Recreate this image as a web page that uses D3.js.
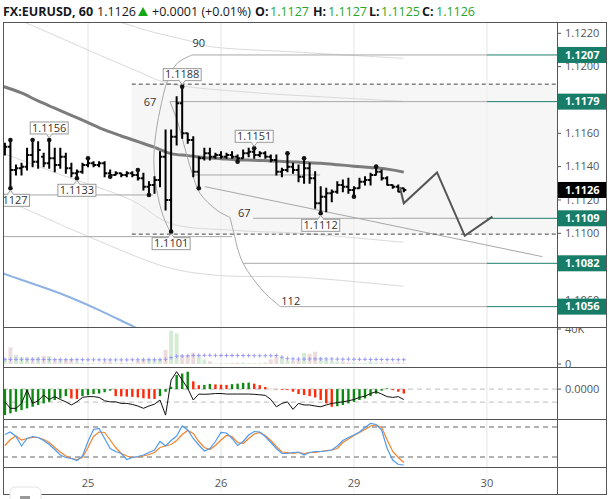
<!DOCTYPE html>
<html><head><meta charset="utf-8">
<script src="https://cdn.jsdelivr.net/npm/d3@7"></script>
<style>body{margin:0;background:#fff}svg{display:block}text{font-family:"Open Sans",sans-serif}</style>
</head><body><svg id="c" width="610" height="499"></svg>
<script>
// ---------------- data ----------------
const symbol = "FX:EURUSD, 60";
const dayLabels = ["25","26","29","30"];
const dayIndex = [15,39,63,87];
const priceTicks = [1.1040,1.1060,1.1080,1.1100,1.1120,1.1140,1.1160,1.1180,1.1200,1.1220];
const open  = [1.1150,1.1152,1.1138,1.1139,1.1140,1.1147,1.1143,1.1146,1.1142,1.1145,1.1141,1.1146,1.1139,1.1136,1.1137,1.1141,1.1142,1.1141,1.1142,1.1136,1.1135,1.1136,1.1135,1.1136,1.1135,1.1133,1.1128,1.1129,1.1132,1.1146,1.1120,1.1158,1.1178,1.1160,1.1156,1.1137,1.1145,1.1148,1.1146,1.1147,1.1146,1.1147,1.1146,1.1145,1.1148,1.1149,1.1147,1.1148,1.1146,1.1144,1.1137,1.1138,1.1140,1.1138,1.1134,1.1139,1.1133,1.1118,1.1122,1.1124,1.1125,1.1129,1.1128,1.1126,1.1127,1.1131,1.1132,1.1135,1.1137,1.1133,1.1129,1.1128,1.1127];
const high  = [1.1154,1.1156,1.1141,1.1142,1.1151,1.1156,1.1155,1.1148,1.1156,1.1151,1.1151,1.1148,1.1142,1.1138,1.1142,1.1145,1.1143,1.1143,1.1143,1.1138,1.1137,1.1136,1.1137,1.1137,1.1138,1.1136,1.1131,1.1134,1.1149,1.1162,1.1162,1.1182,1.1188,1.1160,1.1158,1.1146,1.1151,1.1151,1.1148,1.1149,1.1148,1.1149,1.1147,1.1150,1.1151,1.1151,1.1149,1.1149,1.1147,1.1147,1.1139,1.1148,1.1142,1.1141,1.1145,1.1142,1.1137,1.1128,1.1127,1.1126,1.1131,1.1132,1.1133,1.1128,1.1133,1.1134,1.1136,1.1140,1.1138,1.1134,1.1129,1.1129,1.1127];
const low   = [1.1147,1.1127,1.1135,1.1135,1.1138,1.1140,1.1139,1.1140,1.1139,1.1137,1.1139,1.1136,1.1134,1.1133,1.1136,1.1140,1.1140,1.1140,1.1134,1.1134,1.1135,1.1134,1.1134,1.1134,1.1132,1.1126,1.1123,1.1124,1.1128,1.1114,1.1101,1.1153,1.1157,1.1154,1.1134,1.1127,1.1144,1.1144,1.1145,1.1145,1.1145,1.1145,1.1143,1.1145,1.1146,1.1145,1.1146,1.1145,1.1143,1.1135,1.1134,1.1137,1.1136,1.1131,1.1130,1.1130,1.1115,1.1112,1.1113,1.1119,1.1124,1.1125,1.1124,1.1122,1.1127,1.1129,1.1129,1.1135,1.1132,1.1129,1.1127,1.1125,1.1125];
const close = [1.1152,1.1138,1.1139,1.1140,1.1147,1.1143,1.1150,1.1142,1.1145,1.1141,1.1146,1.1139,1.1136,1.1137,1.1141,1.1142,1.1141,1.1142,1.1136,1.1135,1.1136,1.1135,1.1136,1.1135,1.1133,1.1128,1.1129,1.1132,1.1146,1.1120,1.1158,1.1178,1.1160,1.1156,1.1137,1.1145,1.1148,1.1146,1.1147,1.1146,1.1147,1.1146,1.1145,1.1148,1.1149,1.1147,1.1148,1.1146,1.1144,1.1137,1.1138,1.1140,1.1138,1.1134,1.1139,1.1133,1.1118,1.1122,1.1124,1.1125,1.1129,1.1128,1.1126,1.1127,1.1131,1.1132,1.1135,1.1137,1.1133,1.1129,1.1128,1.1125,1.1126];
const volume = [5200,19000,10300,7600,7600,7600,8400,9100,9100,5300,5300,5300,5300,2600,1500,800,800,800,2600,2600,1000,1600,900,900,3800,5000,5200,5300,6200,16000,38000,35000,10300,10300,13000,10300,5300,3000,800,800,800,1200,1600,1600,1000,800,1200,1600,5300,8000,7200,3800,3800,5000,12600,11400,14000,7600,5000,3800,2800,2800,1600,1600,800,1200,2800,1600,1600,1600,1200,1800,1000];
const volumeMA = [5200,5200,5300,5300,5300,5200,5200,5200,5100,5100,5000,5000,5000,4900,4900,4800,4800,4800,4800,4700,4700,4700,4700,4800,4800,4800,4900,4900,4900,5400,7200,8900,9100,9300,9700,9900,9900,9900,9800,9800,9700,9700,9700,9600,9600,9500,9500,9500,9500,9600,7800,6100,5800,5600,5600,5700,5800,5800,5800,5700,5600,5500,5500,5400,5300,5300,5200,5200,5100,5000,5000,4900,4900];
const macdHist = [-0.00100,-0.00093,-0.00087,-0.00081,-0.00074,-0.00068,-0.00061,-0.00055,-0.00049,-0.00042,-0.00036,-0.00027,-0.00036,-0.00038,-0.00027,-0.00023,-0.00019,-0.00017,-0.00012,-0.00006,-0.00027,-0.00028,-0.00029,-0.00030,-0.00032,-0.00035,-0.00037,-0.00038,-0.00027,-0.00010,0.00009,0.00054,0.00060,0.00067,0.00030,0.00015,0.00016,0.00020,0.00018,0.00017,0.00016,0.00019,0.00021,0.00024,0.00025,0.00021,0.00015,0.00008,0.00001,-0.00001,-0.00003,-0.00004,-0.00010,-0.00019,-0.00023,-0.00027,-0.00032,-0.00042,-0.00055,-0.00068,-0.00066,-0.00061,-0.00055,-0.00049,-0.00042,-0.00036,-0.00027,-0.00018,-0.00006,0.00003,-0.00004,-0.00010,-0.00017];
const macdLine = [-0.00049,-0.00074,-0.00074,-0.00055,-0.00004,-0.00055,-0.00045,-0.00023,-0.00040,-0.00029,-0.00040,-0.00049,-0.00061,-0.00049,-0.00032,-0.00029,-0.00029,-0.00032,-0.00045,-0.00049,-0.00049,-0.00055,-0.00055,-0.00059,-0.00065,-0.00074,-0.00065,-0.00058,-0.00042,-0.00100,0.00035,0.00067,0.00035,0.00003,-0.00042,-0.00019,-0.00020,-0.00019,-0.00017,-0.00017,-0.00019,-0.00019,-0.00019,-0.00019,-0.00019,-0.00020,-0.00022,-0.00024,-0.00040,-0.00068,-0.00055,-0.00049,-0.00078,-0.00055,-0.00061,-0.00061,-0.00065,-0.00068,-0.00061,-0.00055,-0.00052,-0.00049,-0.00045,-0.00040,-0.00032,-0.00027,-0.00017,-0.00010,-0.00019,-0.00029,-0.00032,-0.00029,-0.00040];
const stochK = [65,70,61,42,57,61,59,53,45,35,24,19,17,13,22,51,75,77,57,37,31,27,15,19,21,24,29,34,51,42,53,62,82,74,57,44,32,37,51,69,68,57,43,51,64,71,70,61,49,37,27,27,29,30,24,29,31,31,32,34,42,53,59,64,70,79,87,85,74,37,14,5,4];
const stochD = [43,55,62,54,57,59,59,55,49,39,30,22,17,15,19,39,61,70,69,54,39,27,22,19,20,22,25,29,39,42,45,53,65,73,67,51,39,35,43,54,63,61,49,47,57,66,69,63,53,41,30,29,27,29,27,29,29,31,33,34,37,49,56,63,69,75,82,84,79,54,31,19,9];
// long moving average and envelopes, [bar index, price]
const maLong = [[-1,1.11888],[0,1.11878],[3,1.11842],[6,1.11794],[9,1.11751],[12,1.11708],[15,1.11664],[18,1.11620],[21,1.11584],[24,1.11550],[27,1.11516],[30,1.11478],[33,1.11466],[36,1.11454],[39,1.11448],[42,1.11442],[45,1.11439],[48,1.11434],[51,1.11430],[54,1.11425],[57,1.11420],[60,1.11412],[63,1.11403],[66,1.11395],[69,1.11385],[72,1.11367]];
const bandU1 = [[9.9,1.12350],[20.8,1.12266],[26.2,1.12212],[33.6,1.12152],[36.8,1.12122],[53.3,1.12086],[71.9,1.12050]];
const bandU2 = [[-0.9,1.12332],[3.6,1.12266],[17.2,1.12068],[24.4,1.11966],[29.4,1.11900],[44.2,1.11846],[58.7,1.11816],[71.9,1.11792]];
const bandL2 = [[-0.9,1.11486],[9.9,1.11354],[22.9,1.11198],[29.8,1.11060],[41.2,1.11018],[53.3,1.11000],[71.9,1.10946]];
const bandL1 = [[-0.9,1.11210],[2.2,1.11168],[15.4,1.10976],[29.3,1.10796],[38.3,1.10748],[53.3,1.10736],[71.9,1.10682]];
const blueMA = [[-0.4,1.10760],[2.7,1.10724],[9.9,1.10640],[17.1,1.10538],[23.5,1.10436],[28,1.10370]];
// drawing objects
const levelPrices = [1.1207,1.1179,1.1109,1.1082,1.1056];
const levelStart  = [33.8,29.8,44.8,43.0,49.7];
const tagText = ["90","67","67","112"];
const tagPos  = [[35.0,1.1214],[26.2,1.11786],[43.2,1.1112],[51.6,1.10592]];
const arcA  = [[33.8,1.1207],[31.1,1.1202],[29.4,1.1192],[28.0,1.1174],[27.1,1.1156],[26.9,1.1141],[27.4,1.1126],[28.5,1.1111],[29.8,1.1101]];
const arcB1 = [[29.8,1.1179],[31.2,1.11666],[32.1,1.11558],[33.8,1.11360],[35.2,1.11240],[38.3,1.11138],[40.6,1.11096]];
const arcB2 = [[40.6,1.11096],[41.3,1.11006],[42.1,1.10898],[43.0,1.1082],[44.6,1.10736],[46.8,1.10646],[49.7,1.1056]];
const trendLine = [[36.1,1.1128],[97,1.1086]];
const hLinePrice = [1.1123,1.1135,1.1098];
const hLineSpan  = [[-2,26.7],[34,56.9],[-2,41]];
const boxStart = 22.9, boxTop = 1.11895, boxBottom = 1.10995;
const projection = [[71.3,1.11276],[72,1.1118],[78,1.11365],[83,1.10985],[88,1.1110]];
const pivotHighIdx = [1,5,8,15,24,32,45,51,54,67];
const pivotLowIdx  = [1,13,19,26,30,35,42,57,63];
const labelHighIdx = [8,32,45];
const labelLowIdx  = [1,13,30,57];

// ---------------- layout ----------------
const L=3, R=557, AR=607, T=22, MB=327, VB=367, CB=419, SB=467, BOT=494;
const svg = d3.select("#c");
const x = d3.scaleLinear().domain([dayIndex[0], dayIndex[3]]).range([88, 486.9]);
const y = d3.scaleLinear().domain([1.1100, 1.1220]).range([233.3, 33.3]);
const vy = d3.scaleLinear().domain([0, 40000]).range([364, 329]);
const my = d3.scaleLinear().domain([-0.00115, 0.00085]).range([419, 367]);
const sy = d3.scaleLinear().domain([0, 100]).range([467, 417]);
const N = close.length;
const f4 = d3.format(".4f");
const green = "#2aa52a";

const defs = svg.append("defs");
function clip(id, x0, y0, w, h){ defs.append("clipPath").attr("id", id).append("rect").attr("x",x0).attr("y",y0).attr("width",w).attr("height",h); }
clip("cm", L, T, R-L, MB-T);
clip("cv", L, MB, R-L, VB-MB);
clip("cc", L, VB, R-L, CB-VB);
clip("cs", L, CB, R-L, SB-CB);
clip("cva", R, MB+1, AR-R, VB-MB-1);
clip("caxis", R, T+1, AR-R, MB-T-1);

// grid lines
const grid = svg.append("g");
dayIndex.forEach(d => grid.append("line").attr("x1", x(d)).attr("x2", x(d)).attr("y1", T).attr("y2", SB).attr("stroke", "#efefef"));

// ---------------- main panel ----------------
const main = svg.append("g").attr("clip-path", "url(#cm)");
main.append("rect").attr("x", x(boxStart)).attr("y", y(boxTop)).attr("width", R - x(boxStart)).attr("height", y(boxBottom) - y(boxTop)).attr("fill", "#f6f6f6");
dayIndex.forEach(d => main.append("line").attr("x1", x(d)).attr("x2", x(d)).attr("y1", T).attr("y2", MB).attr("stroke", "#ececec"));

const lineP = d3.line().x(d => x(d[0])).y(d => y(d[1]));
const smooth = d3.line().x(d => x(d[0])).y(d => y(d[1])).curve(d3.curveCatmullRom.alpha(0.5));
[bandU1, bandU2, bandL2, bandL1].forEach(b => main.append("path").attr("d", smooth(b)).attr("fill", "none").attr("stroke", "#d9d9d9").attr("stroke-width", 1));
main.append("path").attr("d", smooth(blueMA)).attr("fill", "none").attr("stroke", "#8fb2e4").attr("stroke-width", 2);
main.append("path").attr("d", smooth(maLong)).attr("fill", "none").attr("stroke", "#7c7c7c").attr("stroke-width", 3);

// structure lines
const st = main.append("g").attr("fill", "none").attr("stroke", "#a8a8a8").attr("stroke-width", 1);
levelPrices.forEach((p, k) => {
  st.append("line").attr("x1", x(levelStart[k])).attr("x2", x(dayIndex[3])).attr("y1", y(p)).attr("y2", y(p));
  st.append("line").attr("x1", x(dayIndex[3])).attr("x2", R).attr("y1", y(p)).attr("y2", y(p)).attr("stroke", "#1b7f6a");
});
hLinePrice.forEach((p, k) => st.append("line").attr("x1", x(hLineSpan[k][0])).attr("x2", x(hLineSpan[k][1])).attr("y1", y(p)).attr("y2", y(p)));
st.append("path").attr("d", lineP(trendLine));
[arcA, arcB1, arcB2].forEach(a => st.append("path").attr("d", smooth(a)));

// dashed box borders
[boxTop, boxBottom].forEach(p => main.append("line").attr("x1", x(boxStart)).attr("x2", R).attr("y1", y(p)).attr("y2", y(p)).attr("stroke", "#444").attr("stroke-dasharray", "4,3"));

// OHLC bars
const bars = main.append("g").attr("stroke", "#000").attr("stroke-width", 2).attr("fill", "none");
d3.range(N).forEach(i => {
  const xi = x(i);
  bars.append("path").attr("d", `M${xi},${y(high[i])-0.5}V${y(low[i])+0.5}M${xi-2.5},${y(open[i])}H${xi}M${xi},${y(close[i])}H${xi+2.5}`);
});
pivotHighIdx.forEach(i => main.append("circle").attr("cx", x(i)).attr("cy", y(high[i])).attr("r", 2.3).attr("fill", "#111"));
pivotLowIdx.forEach(i => main.append("circle").attr("cx", x(i)).attr("cy", y(low[i])).attr("r", 2.3).attr("fill", "#111"));

// projection
main.append("path").attr("d", lineP(projection)).attr("fill", "none").attr("stroke", "#555").attr("stroke-width", 2).attr("stroke-linejoin", "miter");

// tags
tagText.forEach((t, k) => main.append("text").attr("x", x(tagPos[k][0])).attr("y", y(tagPos[k][1])).attr("dy", "0.35em").attr("text-anchor", "middle").attr("font-size", 11).attr("fill", "#333").text(t));

// pivot labels
function pivotLabel(i, price, above){
  const cx = x(i), py = y(price), w = 38, h = 12;
  const by = above ? py - 6 - h : py + 6;
  const g = main.append("g");
  const tipY = above ? py - 2 : py + 2, baseY = above ? by + h : by;
  g.append("path").attr("d", `M${cx-3},${baseY}L${cx},${tipY}L${cx+3},${baseY}`).attr("fill", "#fff").attr("stroke", "#999");
  g.append("rect").attr("x", cx - w/2).attr("y", by).attr("width", w).attr("height", h).attr("fill", "#fff").attr("stroke", "#999");
  g.append("rect").attr("x", cx - 2.5).attr("y", above ? by + h - 1 : by - 0.5).attr("width", 5).attr("height", 1.5).attr("fill", "#fff");
  g.append("text").attr("x", cx).attr("y", by + h/2).attr("dy", "0.35em").attr("text-anchor", "middle").attr("font-size", 11).attr("fill", "#333").text(f4(price));
}
labelHighIdx.forEach(i => pivotLabel(i, high[i], true));
labelLowIdx.forEach(i => pivotLabel(i, low[i], false));

// ---------------- volume ----------------
const vol = svg.append("g").attr("clip-path", "url(#cv)");
dayIndex.forEach(d => vol.append("line").attr("x1", x(d)).attr("x2", x(d)).attr("y1", MB).attr("y2", VB).attr("stroke", "#ececec"));
d3.range(N).forEach(i => {
  vol.append("rect").attr("x", x(i) - 2).attr("width", 4).attr("y", vy(volume[i])).attr("height", vy(0) - vy(volume[i]))
    .attr("fill", close[i] >= open[i] ? "#d6ebd6" : "#eddcdc");
});
const plus = vol.append("g").attr("stroke", "#9a9af2").attr("stroke-width", 1);
d3.range(N).forEach(i => {
  const cx = x(i), cy = vy(volumeMA[i]);
  plus.append("path").attr("d", `M${cx-2},${cy}H${cx+2}M${cx},${cy-2}V${cy+2}`);
});

// ---------------- MACD ----------------
const mc = svg.append("g").attr("clip-path", "url(#cc)");
dayIndex.forEach(d => mc.append("line").attr("x1", x(d)).attr("x2", x(d)).attr("y1", VB).attr("y2", CB).attr("stroke", "#ececec"));
[0, -0.0005].forEach(v => mc.append("line").attr("x1", L).attr("x2", R).attr("y1", my(v)).attr("y2", my(v)).attr("stroke", "#bdbdbd").attr("stroke-dasharray", "5,4"));
d3.range(N).forEach(i => {
  const v = macdHist[i], prev = i > 0 ? macdHist[i-1] : v - 1;
  mc.append("rect").attr("x", x(i) - 1.2).attr("width", 2.4).attr("y", Math.min(my(v), my(0))).attr("height", Math.abs(my(v) - my(0)))
    .attr("fill", v >= prev ? "#0e8a12" : "#ff2a0a");
});
mc.append("path").attr("d", d3.line().x((d, i) => x(i)).y(d => my(d))(macdLine)).attr("fill", "none").attr("stroke", "#111").attr("stroke-width", 1);

// ---------------- Stochastic ----------------
const so = svg.append("g").attr("clip-path", "url(#cs)");
dayIndex.forEach(d => so.append("line").attr("x1", x(d)).attr("x2", x(d)).attr("y1", CB).attr("y2", SB).attr("stroke", "#ececec"));
[80, 20].forEach(v => so.append("line").attr("x1", L).attr("x2", R).attr("y1", sy(v)).attr("y2", sy(v)).attr("stroke", "#666").attr("stroke-dasharray", "5,4"));
const sl = d3.line().x((d, i) => x(i)).y(d => sy(d));
so.append("path").attr("d", sl(stochD)).attr("fill", "none").attr("stroke", "#f5822a").attr("stroke-width", 1.2);
so.append("path").attr("d", sl(stochK)).attr("fill", "none").attr("stroke", "#4d9bf0").attr("stroke-width", 1.2);

// ---------------- x axis ----------------
dayIndex.forEach(d => svg.append("line").attr("x1", x(d)).attr("x2", x(d)).attr("y1", SB).attr("y2", BOT).attr("stroke", "#f2f2f2"));
dayLabels.forEach((t, k) => svg.append("text").attr("x", x(dayIndex[k])).attr("y", 483).attr("dy", "0.35em").attr("text-anchor", "middle").attr("font-size", 11).attr("fill", "#555").text(t));

// ---------------- right axes ----------------
const last = close[N-1];
const boxed = levelPrices.concat([last]);
const ax = svg.append("g").attr("clip-path", "url(#caxis)");
priceTicks.forEach(p => {
  ax.append("line").attr("x1", R).attr("x2", R + 4).attr("y1", y(p)).attr("y2", y(p)).attr("stroke", "#555");
  // a tick label fully hidden under a price box is not drawn
  if (boxed.some(b => Math.abs(y(b) - y(p)) < 4)) return;
  ax.append("text").attr("x", 565).attr("y", y(p)).attr("dy", "0.35em").attr("font-size", 11).attr("fill", "#555").text(f4(p));
});
levelPrices.forEach(p => {
  ax.append("rect").attr("x", R + 1).attr("y", y(p) - 8).attr("width", AR - R - 1).attr("height", 16).attr("fill", "#187d68");
  ax.append("text").attr("x", 565).attr("y", y(p)).attr("dy", "0.35em").attr("font-size", 11).attr("font-weight", "bold").attr("fill", "#fff").text(f4(p));
});
ax.append("rect").attr("x", R + 1).attr("y", y(last) - 8).attr("width", AR - R - 1).attr("height", 16).attr("fill", "#000");
ax.append("text").attr("x", 565).attr("y", y(last)).attr("dy", "0.35em").attr("font-size", 11).attr("font-weight", "bold").attr("fill", "#fff").text(f4(last));

const va = svg.append("g").attr("clip-path", "url(#cva)");
[[40000, "40K"], [0, "0"]].forEach(([v, t]) => {
  va.append("line").attr("x1", R).attr("x2", R + 4).attr("y1", vy(v)).attr("y2", vy(v)).attr("stroke", "#555");
  va.append("text").attr("x", 565).attr("y", vy(v)).attr("dy", "0.35em").attr("font-size", 11).attr("fill", "#555").text(t);
});
svg.append("line").attr("x1", R).attr("x2", R + 4).attr("y1", my(0)).attr("y2", my(0)).attr("stroke", "#555");
svg.append("text").attr("x", 565).attr("y", my(0)).attr("dy", "0.35em").attr("font-size", 11).attr("fill", "#555").text(f4(0));

// ---------------- frame ----------------
const fr = svg.append("g").attr("stroke", "#555").attr("stroke-width", 1).attr("fill", "none");
fr.append("rect").attr("x", L + 0.5).attr("y", T + 0.5).attr("width", AR - L - 1).attr("height", BOT - T);
[MB, VB, CB, SB].forEach(v => fr.append("line").attr("x1", L).attr("x2", AR).attr("y1", v + 0.5).attr("y2", v + 0.5));
fr.append("line").attr("x1", R + 0.5).attr("x2", R + 0.5).attr("y1", T).attr("y2", BOT);

// little button bottom-left
svg.append("rect").attr("x", 10).attr("y", 487).attr("width", 31).attr("height", 20).attr("rx", 5).attr("fill", "#fff").attr("stroke", "#e3e3e3");
svg.append("rect").attr("x", 20).attr("y", 496).attr("width", 10).attr("height", 3).attr("fill", "#999");

// ---------------- header ----------------
const chg = close[N-1] - close[N-2];
const hdr = svg.append("text").attr("y", 16).attr("font-size", 12.5).attr("fill", "#131722");
hdr.append("tspan").attr("x", 3).attr("font-weight", "bold").text(symbol);
hdr.append("tspan").attr("x", 97).text(f4(last));
svg.append("path").attr("d", "M138,16L143,7L148,16Z").attr("fill", "#17a817");
hdr.append("tspan").attr("x", 152).text((chg >= 0 ? "+" : "") + f4(chg) + " (" + (chg >= 0 ? "+" : "") + d3.format(".2f")(chg / close[N-2] * 100) + "%)");
const ohlc = [["O:", open[N-1], 255, 270], ["H:", high[N-1], 313, 328], ["L:", low[N-1], 369, 381], ["C:", close[N-1], 422, 436]];
ohlc.forEach(([k, v, xk, xv]) => {
  hdr.append("tspan").attr("x", xk).attr("font-weight", "bold").text(k);
  hdr.append("tspan").attr("x", xv).attr("fill", green).text(f4(v));
});
</script></body></html>
